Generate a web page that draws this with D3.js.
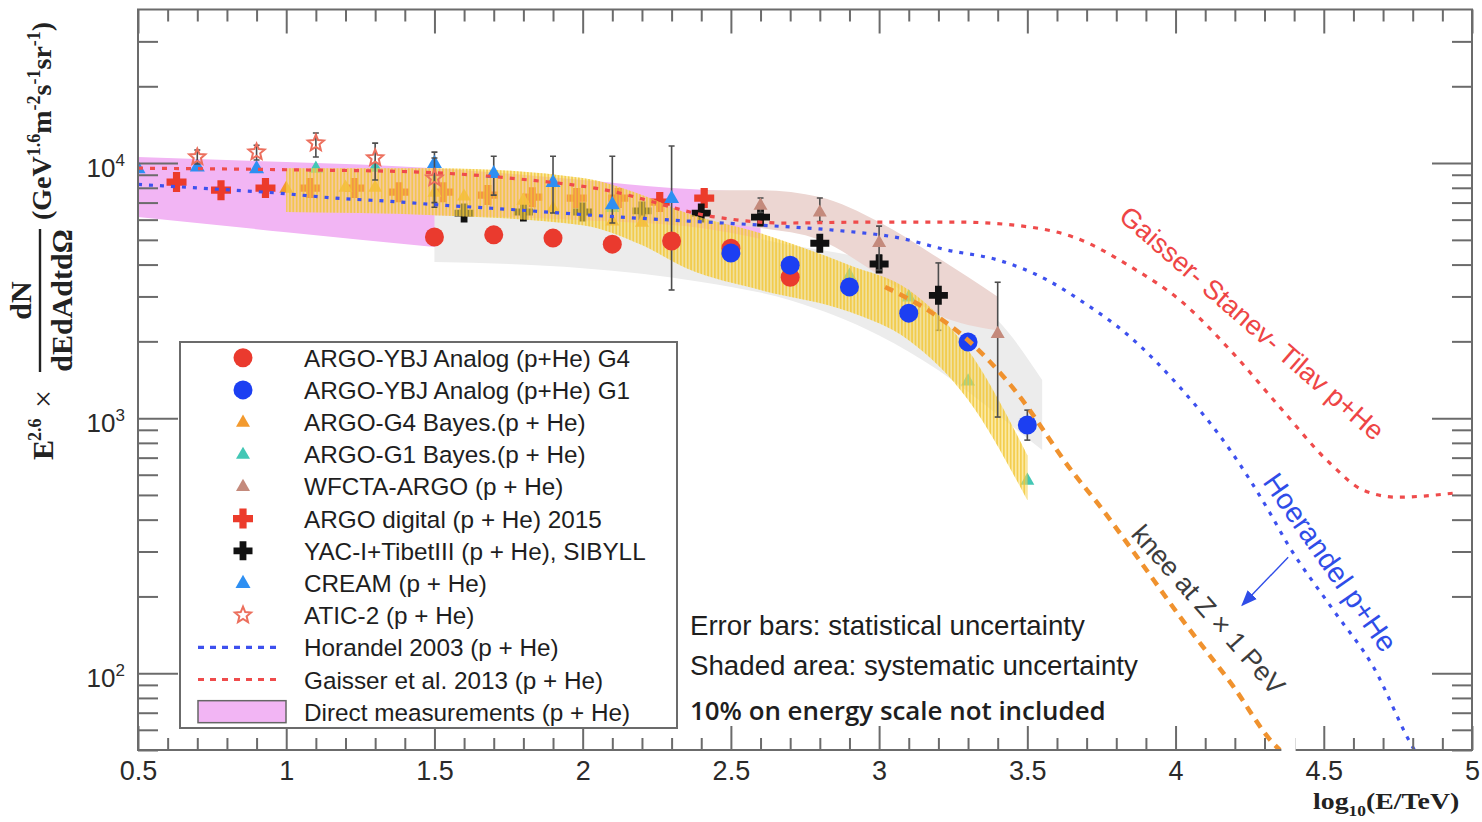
<!DOCTYPE html>
<html><head><meta charset="utf-8">
<script src="https://cdn.jsdelivr.net/npm/d3@7"></script>
<style>
html,body{margin:0;padding:0;background:#fff;}
svg{display:block;}
</style></head><body>
<svg id="chart" width="1482" height="822"></svg>
<script>
// ---------- tick labels ----------
const xTicksMajor = [0.5,1,1.5,2,2.5,3,3.5,4,4.5,5];
const xTickLabels = ["0.5","1","1.5","2","2.5","3","3.5","4","4.5","5"];
const yTicksMajor = [100,1000,10000];
const yTickExp = ["2","3","4"];

// ---------- data points: [log10(E/TeV), flux, errLow, errHigh] ----------
const g4Analog = [[1.5,5130],[1.7,5230],[1.9,5080],[2.1,4810],[2.3,4950],[2.5,4640],[2.7,3570]];
const g1Analog = [[2.5,4440],[2.7,3980],[2.9,3270],[3.1,2580],[3.3,1990],[3.5,940,820,1075]];
const g4Bayes  = [[1.0,7980],[1.2,8050],[1.3,8050],[1.5,7690],[1.6,7430],[1.8,7160],[1.9,6660],[2.1,5930],[2.2,5870]];
const g1Bayes  = [[1.1,9550],[1.3,9650],[2.1,6710],[2.9,3640],[3.1,2990],[3.3,1400],[3.5,572]];
const wfcta    = [[2.6,6840,6400,7300],[2.8,6430,5900,7300],[3.0,4890,3810,5660],[3.4,2150,1010,3410]];
const argoDigital = [[0.63,8420],[0.78,7830],[0.93,7980],[1.08,7980],[1.23,7980],[1.38,7690],[1.53,7690],
                     [1.68,7490],[1.83,7350],[1.98,7290],[2.12,7290],[2.26,7030],[2.41,7290,6900,7830]];
const yacTibet = [[1.6,6370],[1.8,6430],[2.0,6430],[2.2,6490],[2.4,6370,5930,6840],[2.6,6140,5700,6600],
                  [2.8,4850,4500,5220],[3.0,4020,3740,4360],[3.2,3030,2210,4060]];
const cream    = [[0.5,9550],[0.7,9700],[0.9,9550],[1.5,10000,7000,11040],[1.7,9140,7490,10640],
                  [1.9,8420,6370,10640],[2.1,6900,5820,10640],[2.3,7290,3180,11660]];
const atic     = [[0.7,10560,9910,11250],[0.9,11040,10280,11740],[1.1,11970,10560,13120],
                  [1.3,10470,8580,11970],[1.5,8730,6710,10470]];

// ---------- systematic bands: [x, low, high] ----------
const directBand = [[0.5,6140,10560],[1.0,5360,10090],[1.5,4690,9550],[2.0,4090,8580],[2.3,3740,7980],[2.6,3420,7690]];
const analogBand = [[1.5,4090,6250],[2.0,3870,5970],[2.4,3420,5560],[2.7,2900,4770],[3.0,2110,4090],
                    [3.2,1540,3330],[3.4,1030,2420],[3.55,750,1410]];
const wfctaBand  = [[2.4,5870,7830],[2.6,5560,7830],[2.8,4990,7360],[3.0,3640,5870],[3.2,2540,4240],[3.4,2210,2990]];
const bayesBand  = [[1.0,6430,9550],[1.5,6250,9550],[2.0,5710,8730],[2.2,4770,7490],[2.35,3870,6370],
                    [2.6,3180,5310],[2.9,2610,3980],[3.1,2020,3180],[3.3,1180,1850],[3.5,477,716]];

// ---------- model curves: [x, flux] ----------
const horandel = [[0.5,8250],[0.76,7910],[0.97,7630],[1.165,7290],[1.39,7030],[1.48,6900],[1.79,6540],
                  [2.07,6200],[2.35,5930],[2.6,5710],[2.845,5460],[3.07,5080],[3.23,4560],[3.4,4170],
                  [3.567,3480],[3.678,2900],[3.847,2080],[4.015,1320],[4.184,750],[4.319,424],[4.376,324],
                  [4.532,177],[4.667,106],[4.8,51.3],[4.82,47]];
const gaisser  = [[0.5,9550],[1.047,9400],[1.45,9220],[1.79,8650],[2.06,7910],[2.45,6140],[2.676,5820],
                  [2.96,5870],[3.263,5870],[3.51,5610],[3.655,5130],[3.857,3870],[4.015,2900],[4.184,1850],
                  [4.353,1100],[4.52,667],[4.633,522],[4.748,490],[4.937,508]];
const kneeLine = [[3.02,3270],[3.18,2580],[3.3,2020],[3.45,1320],[3.655,610],[3.746,450],[3.857,300],
                  [4.026,160],[4.194,89],[4.33,53],[4.36,49]];

// ---------- legend ----------
const legendLabels = ["ARGO-YBJ Analog (p+He) G4","ARGO-YBJ Analog (p+He) G1","ARGO-G4 Bayes.(p + He)",
  "ARGO-G1 Bayes.(p + He)","WFCTA-ARGO (p + He)","ARGO digital (p + He) 2015","YAC-I+TibetIII (p + He), SIBYLL",
  "CREAM (p + He)","ATIC-2 (p + He)","Horandel 2003 (p + He)","Gaisser et al. 2013 (p + He)","Direct measurements (p + He)"];

// ---------- scales ----------
const svg = d3.select("#chart");
const x = d3.scaleLinear().domain([0.5,5]).range([138,1472]);
const y = d3.scaleLog().domain([50,40000]).range([750,9.5]);
const [X0,X1] = x.range(), [Y1,Y0] = y.range();

const defs = svg.append("defs");
defs.append("clipPath").attr("id","plotClip").append("rect")
  .attr("x",X0).attr("y",Y0).attr("width",X1-X0).attr("height",Y1-Y0);
const hatch = defs.append("pattern").attr("id","hatchY").attr("patternUnits","userSpaceOnUse")
  .attr("width",3.4).attr("height",10);
hatch.append("rect").attr("width",1.8).attr("height",10).attr("fill","#f2c531");

const plot = svg.append("g").attr("clip-path","url(#plotClip)");

const area = d3.area().x(d=>x(d[0])).y0(d=>y(d[1])).y1(d=>y(d[2])).curve(d3.curveMonotoneX);
const line = d3.line().x(d=>x(d[0])).y(d=>y(d[1])).curve(d3.curveMonotoneX);

// marker shapes
const crossPath = (a,t)=>`M${-t},${-a}H${t}V${-t}H${a}V${t}H${t}V${a}H${-t}V${t}H${-a}V${-t}H${-t}Z`;
const triPath = s=>{const h=s*0.87;return `M0,${-h*0.62}L${s/2},${h*0.38}L${-s/2},${h*0.38}Z`;};
const starPath = (R,r)=>{let p="";for(let i=0;i<10;i++){const a=-Math.PI/2+i*Math.PI/5,rr=i%2?r:R;
  p+=(i?"L":"M")+(rr*Math.cos(a)).toFixed(2)+","+(rr*Math.sin(a)).toFixed(2);}return p+"Z";};

const styles = {
  g4Analog:{type:"circle",fill:"#ea3a2e"},
  g1Analog:{type:"circle",fill:"#1c3ff2"},
  g4Bayes:{type:"path",d:triPath(14),fill:"#f39a2e"},
  g1Bayes:{type:"path",d:triPath(14),fill:"#43c7b5"},
  wfcta:{type:"path",d:triPath(14),fill:"#c48a7c"},
  argoDigital:{type:"path",d:crossPath(10,3.6),fill:"#ec3b2b"},
  yacTibet:{type:"path",d:crossPath(9.5,3.4),fill:"#111"},
  cream:{type:"path",d:triPath(15),fill:"#2e8ff2"},
  atic:{type:"path",d:starPath(8.5,3.8),fill:"none",stroke:"#ec6f5d"}
};

function drawMarker(g, st){
  if(st.type==="circle") return g.append("circle").attr("r",9.5).attr("fill",st.fill);
  const p = g.append("path").attr("d",st.d).attr("fill",st.fill);
  if(st.stroke) p.attr("stroke",st.stroke).attr("stroke-width",2);
  return p;
}

function drawErrors(layer, data){
  data.filter(d=>d.length>3).forEach(d=>{
    const cx=x(d[0]), ylo=y(d[2]), yhi=y(d[3]);
    layer.append("line").attr("x1",cx).attr("x2",cx).attr("y1",ylo).attr("y2",yhi)
      .attr("stroke","#4d4d4d").attr("stroke-width",1.6);
    [ylo,yhi].forEach(v=>layer.append("line").attr("x1",cx-3).attr("x2",cx+3).attr("y1",v).attr("y2",v)
      .attr("stroke","#4d4d4d").attr("stroke-width",1.6));
  });
}

function drawSeries(layer, data, st){
  drawErrors(layer, data);
  data.forEach(d=>{
    const g = layer.append("g").attr("transform",`translate(${x(d[0])},${y(d[1])})`);
    drawMarker(g, st);
  });
}

// bands
plot.append("path").datum(directBand).attr("d",area).attr("fill","#f2b5f4");
plot.append("path").datum(analogBand).attr("d",area).attr("fill","#ececec");
plot.append("path").datum(wfctaBand).attr("d",area).attr("fill","#ecd6d2");

// markers beneath the Bayesian band
drawSeries(plot, argoDigital, styles.argoDigital);
drawSeries(plot, yacTibet, styles.yacTibet);
drawSeries(plot, g4Bayes, styles.g4Bayes);
drawSeries(plot, g1Bayes, styles.g1Bayes);

// Bayesian unfolding band (hatched)
plot.append("path").datum(bayesBand).attr("d",area).attr("fill","#f8d865").attr("opacity",0.55);
plot.append("path").datum(bayesBand).attr("d",area).attr("fill","url(#hatchY)").attr("opacity",0.75);

// markers above the band
drawSeries(plot, wfcta, styles.wfcta);
drawSeries(plot, cream, styles.cream);
drawSeries(plot, g4Analog, styles.g4Analog);
drawSeries(plot, g1Analog, styles.g1Analog);
drawSeries(plot, atic, styles.atic);

// model curves
plot.append("path").datum(gaisser).attr("d",line).attr("fill","none")
  .attr("stroke","#ef4b4b").attr("stroke-width",3.2).attr("stroke-dasharray","5 7");
plot.append("path").datum(horandel).attr("d",line).attr("fill","none")
  .attr("stroke","#3d50ee").attr("stroke-width",3.2).attr("stroke-dasharray","4 7");
plot.append("path").datum(kneeLine).attr("d",line).attr("fill","none")
  .attr("stroke","#f0922e").attr("stroke-width",4.5).attr("stroke-dasharray","9 7");

// ---------- frame & axes ----------
const tickColor = "#6b6b6b";
const yMinor = [50,60,70,80,90,200,300,400,500,600,700,800,900,2000,3000,4000,5000,6000,7000,8000,9000,20000,30000];
const xMinor = d3.range(6,50).map(v=>v/10).filter(v=>Math.abs(v*2-Math.round(v*2))>1e-6);

function styleAxis(g){ g.select(".domain").remove(); g.selectAll(".tick line").attr("stroke",tickColor).attr("stroke-width",2); }

const gxB = svg.append("g").attr("transform",`translate(0,${Y1})`)
  .call(d3.axisBottom(x).tickValues(xTicksMajor).tickSize(-24).tickPadding(11).tickFormat((d,i)=>xTickLabels[i]));
styleAxis(gxB);
gxB.selectAll(".tick text").attr("font-family","'Liberation Sans',Arial,sans-serif").attr("font-size",27).attr("fill","#2a2a2a");
svg.append("g").attr("transform",`translate(0,${Y1})`)
  .call(d3.axisBottom(x).tickValues(xMinor).tickSize(-12).tickFormat("")).call(styleAxis);
svg.append("g").attr("transform",`translate(0,${Y0})`)
  .call(d3.axisTop(x).tickValues(xTicksMajor).tickSize(-24).tickFormat("")).call(styleAxis);
svg.append("g").attr("transform",`translate(0,${Y0})`)
  .call(d3.axisTop(x).tickValues(xMinor).tickSize(-12).tickFormat("")).call(styleAxis);

const gyL = svg.append("g").attr("transform",`translate(${X0},0)`)
  .call(d3.axisLeft(y).tickValues(yTicksMajor).tickSize(-40).tickPadding(13).tickFormat(()=>"10"));
styleAxis(gyL);
gyL.selectAll(".tick text").each(function(d,i){
  const t = d3.select(this).attr("font-family","'Liberation Sans',Arial,sans-serif")
    .attr("font-size",26).attr("fill","#2a2a2a").attr("dy","0.5em");
  t.text(null);
  t.append("tspan").text("10");
  t.append("tspan").attr("font-size",17).attr("dy","-0.62em").text(yTickExp[i]);
});
svg.append("g").attr("transform",`translate(${X0},0)`)
  .call(d3.axisLeft(y).tickValues(yMinor).tickSize(-20).tickFormat("")).call(styleAxis);
svg.append("g").attr("transform",`translate(${X1},0)`)
  .call(d3.axisRight(y).tickValues(yTicksMajor).tickSize(-40).tickFormat("")).call(styleAxis);
svg.append("g").attr("transform",`translate(${X1},0)`)
  .call(d3.axisRight(y).tickValues(yMinor).tickSize(-20).tickFormat("")).call(styleAxis);

svg.append("rect").attr("x",X0).attr("y",Y0).attr("width",X1-X0).attr("height",Y1-Y0)
  .attr("fill","none").attr("stroke",tickColor).attr("stroke-width",2);

// break in the lower axis beside the knee curve
svg.append("rect").attr("x",x(4.357)).attr("y",Y1-12).attr("width",x(4.405)-x(4.357)).attr("height",22).attr("fill","#fff");

// ---------- axis titles ----------
const serif = "'Liberation Serif','Times New Roman',serif";
const yt = svg.append("g").attr("transform","translate(53,460) rotate(-90)")
  .attr("font-family",serif).attr("font-weight","bold").attr("fill","#222");
yt.append("text").attr("x",0).attr("y",0).attr("font-size",30).text("E");
yt.append("text").attr("x",19).attr("y",-12).attr("font-size",18).text("2.6");
yt.append("text").attr("x",52).attr("y",1).attr("font-size",32).attr("font-weight","normal").text("×");
yt.append("line").attr("x1",88).attr("x2",231).attr("y1",-13).attr("y2",-13).attr("stroke","#222").attr("stroke-width",2.4);
yt.append("text").attr("x",159.5).attr("y",-22).attr("text-anchor","middle").attr("font-size",30).text("dN");
yt.append("text").attr("x",159.5).attr("y",19).attr("text-anchor","middle").attr("font-size",30).text("dEdAdtdΩ");
const un = yt.append("text").attr("x",240).attr("y",-2).attr("font-size",28);
[["(GeV",0],["1.6",1],["m",0],["-2",1],["s",0],["-1",1],["sr",0],["-1",1],[")",0]].forEach(([s,sup],i,arr)=>{
  const prev = i? arr[i-1][1] : 0;
  const ts = un.append("tspan").text(s).attr("font-size", sup?18:28);
  if(sup && !prev) ts.attr("dy",-11);
  if(!sup && prev) ts.attr("dy",11);
});

const xt = svg.append("text").attr("transform","translate(1313,809) scale(1.16,1)").attr("font-family",serif)
  .attr("font-weight","bold").attr("fill","#222").attr("font-size",24);
xt.append("tspan").text("log");
xt.append("tspan").attr("font-size",15).attr("dy",7).text("10");
xt.append("tspan").attr("dy",-7).text("(E/TeV)");

// ---------- annotations ----------
function fitWidth(sel, target){
  const w = sel.node().getComputedTextLength();
  sel.attr("font-size", parseFloat(sel.attr("font-size"))*target/w);
}
const sans = "'Liberation Sans',Arial,sans-serif";
const notes = [
  {t:"Error bars: statistical uncertainty", yv:141, w:395, weight:"normal", fam:sans},
  {t:"Shaded area: systematic uncertainty", yv:98.2, w:448, weight:"normal", fam:sans},
  {t:"10% on energy scale not included", yv:65.5, w:416, weight:"600", fam:"'Open Sans',sans-serif"}
];
notes.forEach(n=>{
  const s = svg.append("text").attr("x",x(2.362)).attr("y",y(n.yv)).attr("font-family",n.fam)
    .attr("font-weight",n.weight).attr("font-size",27).attr("fill","#1e1e1e").text(n.t);
  fitWidth(s, n.w);
});

const curveLabels = [
  {t:"Gaisser- Stanev- Tilav p+He", xv:4.258, yv:2360, ang:41, w:340, c:"#ee4545"},
  {t:"Hoerandel p+He", xv:4.522, yv:272, ang:55, w:210, c:"#2f4de8"},
  {t:"knee at Z × 1 PeV", xv:4.11, yv:177, ang:48.5, w:216, c:"#3c3c3c"}
];
curveLabels.forEach(l=>{
  const s = svg.append("text").attr("transform",`translate(${x(l.xv)},${y(l.yv)}) rotate(${l.ang})`)
    .attr("text-anchor","middle").attr("dominant-baseline","central").attr("font-family",sans)
    .attr("font-size",24).attr("fill",l.c).text(l.t);
  fitWidth(s, l.w);
});

// arrow pointing from the Hoerandel label toward the knee curve
const arrowFrom = [4.38,285], arrowTo = [4.225,185];
defs.append("marker").attr("id","arrowHead").attr("viewBox","0 0 10 10").attr("refX",9).attr("refY",5)
  .attr("orient","auto").attr("markerUnits","userSpaceOnUse")
  .attr("markerWidth",16).attr("markerHeight",16)
  .append("path").attr("d","M0,1L10,5L0,9Z").attr("fill","#2f4de8");
svg.append("line").attr("x1",x(arrowFrom[0])).attr("y1",y(arrowFrom[1])).attr("x2",x(arrowTo[0])).attr("y2",y(arrowTo[1]))
  .attr("stroke","#2f4de8").attr("stroke-width",1.4).attr("marker-end","url(#arrowHead)");

// ---------- legend ----------
const lg = svg.append("g");
lg.append("rect").attr("x",180).attr("y",342).attr("width",497).attr("height",386)
  .attr("fill","#fff").attr("stroke",tickColor).attr("stroke-width",2);
const legendKeys = ["g4Analog","g1Analog","g4Bayes","g1Bayes","wfcta","argoDigital","yacTibet","cream","atic","horandel","gaisser","direct"];
legendLabels.forEach((lab,i)=>{
  const cy = 357.7 + i*32.18;
  const key = legendKeys[i];
  if(styles[key]){
    drawMarker(lg.append("g").attr("transform",`translate(243,${cy})`), styles[key]);
  } else if(key==="horandel"){
    lg.append("line").attr("x1",198).attr("x2",282).attr("y1",cy).attr("y2",cy)
      .attr("stroke","#3d50ee").attr("stroke-width",3.2).attr("stroke-dasharray","6 6");
  } else if(key==="gaisser"){
    lg.append("line").attr("x1",198).attr("x2",282).attr("y1",cy).attr("y2",cy)
      .attr("stroke","#ef4b4b").attr("stroke-width",3.2).attr("stroke-dasharray","6 6");
  } else {
    lg.append("rect").attr("x",198).attr("y",cy-11).attr("width",88).attr("height",22)
      .attr("fill","#f2b5f4").attr("stroke","#666").attr("stroke-width",1.5);
  }
  lg.append("text").attr("x",304).attr("y",cy+9).attr("font-family",sans).attr("font-size",24.3)
    .attr("fill","#1e1e1e").text(lab);
});
</script>
</body></html>
